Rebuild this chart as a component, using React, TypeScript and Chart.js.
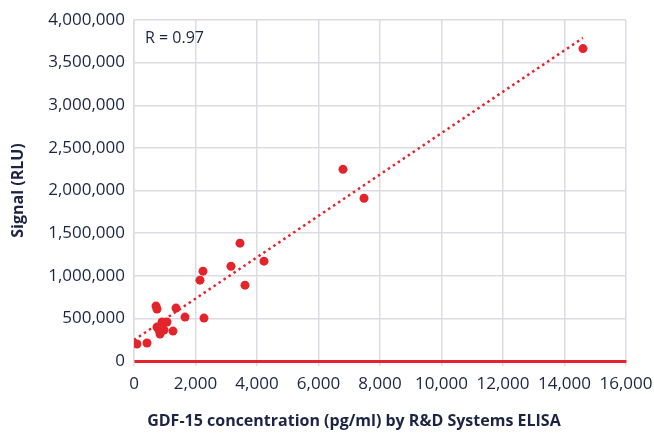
import React, { useEffect, useRef } from 'react';
import { Chart, registerables } from 'chart.js';
Chart.register(...registerables);

const xValues = [98, 423, 715, 748, 1366, 1659, 2276, 748, 911, 1073, 813, 976, 1268, 846, 2146, 2244, 3154, 3447, 3610, 4228, 6797, 7480, 14602];
const yValues = [199000, 211000, 644000, 609000, 621000, 515000, 503000, 398000, 457000, 457000, 363000, 363000, 351000, 316000, 948000, 1054000, 1112000, 1382000, 890000, 1171000, 2248000, 1909000, 3665000];
const trendX = [0, 14600];
const trendY = [246000, 3790000];
const rLabel = 'R = 0.97';
const xTitle = 'GDF-15 concentration (pg/ml) by R&D Systems ELISA';
const yTitle = 'Signal (RLU)';
const xMin = 0, xMax = 16000, xStep = 2000;
const yMin = 0, yMax = 4000000, yStep = 500000;

const RED = '#e3242b';
const NAVY = '#1c2444';
const GRID = '#dcdce4';
const FONT = '"Open Sans", sans-serif';

export default function App() {
  const ref = useRef<HTMLCanvasElement | null>(null);
  useEffect(() => {
    document.body.style.margin = '0';
    const ctx = ref.current!;
    const textPlugin = {
      id: 'texts',
      afterDraw(chart: any) {
        const c = chart.ctx;
        const a = chart.chartArea;
        c.save();
        c.fillStyle = NAVY;
        c.font = `16px ${FONT}`;
        c.textBaseline = 'middle';
        c.textAlign = 'left';
        c.fillText(rLabel, a.left + 11, a.top + 18);
        c.font = `bold 16px ${FONT}`;
        c.textAlign = 'center';
        c.fillText(xTitle, a.left + (a.right - a.left) * 0.447, a.bottom + 60);
        c.restore();
      },
    };
    const chart = new Chart(ctx, {
      type: 'scatter',
      data: {
        datasets: [
          {
            label: 'trend',
            data: trendX.map((x, i) => ({ x, y: trendY[i] })),
            showLine: true,
            borderColor: RED,
            borderWidth: 2.5,
            borderDash: [2.5, 3.5],
            pointRadius: 0,
            fill: false,
          },
          {
            label: 'data',
            data: xValues.map((x, i) => ({ x, y: yValues[i] })),
            backgroundColor: RED,
            borderColor: RED,
            pointRadius: 4.5,
            borderWidth: 0,
          },
        ],
      },
      options: {
        animation: false,
        responsive: true,
        maintainAspectRatio: false,
        layout: { padding: { top: 20, right: 28, left: 0, bottom: 0 } },
        plugins: { legend: { display: false }, tooltip: { enabled: false } },
        scales: {
          x: {
            type: 'linear',
            min: xMin,
            max: xMax,
            afterFit: (s: any) => { s.height = 75; s.paddingRight = 0; s.paddingLeft = 0; },
            ticks: {
              stepSize: xStep,
              color: NAVY,
              font: { family: FONT, size: 17 },
              padding: 8,
              maxRotation: 0,
              callback: (v: any) => Number(v).toLocaleString('en-US'),
            },
            grid: { color: GRID, lineWidth: 1.5, tickLength: 5 },
            border: { color: RED, width: 3 },
            title: { display: false },
          },
          y: {
            type: 'linear',
            min: yMin,
            max: yMax,
            afterFit: (s: any) => { s.width = 134; s.paddingTop = 0; s.paddingBottom = 0; },
            ticks: {
              stepSize: yStep,
              color: NAVY,
              font: { family: FONT, size: 17 },
              padding: 9,
              callback: (v: any) => Number(v).toLocaleString('en-US'),
            },
            grid: {
              drawTicks: false,
              color: (c: any) => (c.tick && c.tick.value === 0 ? RED : GRID),
              lineWidth: (c: any) => (c.tick && c.tick.value === 0 ? 3 : 1.5),
            },
            border: { color: GRID, width: 1.5 },
            title: {
              display: true,
              text: yTitle,
              color: NAVY,
              font: { family: FONT, size: 16, weight: 'bold' },
              padding: { top: 9, bottom: 0 },
            },
          },
        },
      },
      plugins: [textPlugin],
    });
    return () => chart.destroy();
  }, []);
  return (
    <div style={{ width: 654, height: 436, position: 'relative' }}>
      <canvas ref={ref} />
    </div>
  );
}
